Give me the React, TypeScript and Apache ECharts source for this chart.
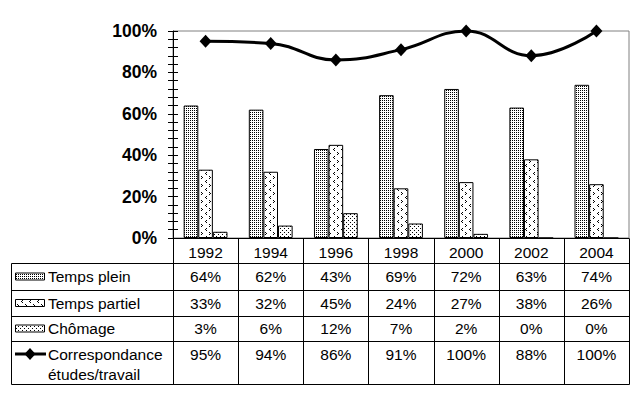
import React, { useEffect, useRef } from 'react';
import * as echarts from 'echarts';

const years = ['1992', '1994', '1996', '1998', '2000', '2002', '2004'];
const tempsPlein = [64, 62, 43, 69, 72, 63, 74];
const tempsPartiel = [33, 32, 45, 24, 27, 38, 26];
const chomage = [3, 6, 12, 7, 2, 0, 0];
const correspondance = [95, 94, 86, 91, 100, 88, 100];
const barNames = ['Temps plein', 'Temps partiel', 'Chômage'];
const lineLabel = ['Correspondance', 'études/travail'];

const FONT = '"Liberation Sans", Arial, sans-serif';

function tile(w: number, h: number, pts: number[][]) {
  const c = document.createElement('canvas');
  c.width = w;
  c.height = h;
  const ctx = c.getContext('2d')!;
  ctx.fillStyle = '#fff';
  ctx.fillRect(0, 0, w, h);
  ctx.fillStyle = '#000';
  pts.forEach(([x, y]) => ctx.fillRect(x, y, 1, 1));
  return { image: c, repeat: 'repeat', imageWidth: w, imageHeight: h } as any;
}

export default function App() {
  const ref = useRef<HTMLDivElement>(null);
  useEffect(() => {
    if (!ref.current) return;
    const chart = echarts.init(ref.current, undefined, { renderer: 'svg' });

    const patPlein = tile(2, 2, [[0, 0]]);
    const patPartiel = tile(8, 8, [[1, 0], [2, 1], [1, 2], [6, 4], [5, 5], [6, 6]]);
    const patChomage = tile(4, 4, [[0, 0], [2, 2]]);
    const patterns = [patPlein, patPartiel, patChomage];
    const barData = [tempsPlein, tempsPartiel, chomage];

    const gridLeft = 173;
    const gridRight = 629;
    const gridTop = 31;
    const gridBottom = 238;
    const colW = (gridRight - gridLeft) / years.length;
    const tableLeft = 11;
    const rowLines = [263, 290, 316, 341, 384];
    const rowCenters = [276.5, 303, 328.5, 354];
    const secondLineY = 374;

    const graphics: any[] = [];
    const px = (v: number) => Math.round(v) + 0.5;
    const black = { stroke: '#000', lineWidth: 1 };
    rowLines.forEach((y) => {
      graphics.push({ type: 'line', shape: { x1: px(tableLeft), y1: px(y), x2: px(gridRight), y2: px(y) }, style: black });
    });
    graphics.push({ type: 'line', shape: { x1: px(tableLeft), y1: px(rowLines[0]), x2: px(tableLeft), y2: px(rowLines[rowLines.length - 1]) }, style: black });
    for (let k = 0; k <= years.length; k++) {
      const x = px(gridLeft + k * colW);
      graphics.push({ type: 'line', shape: { x1: x, y1: px(gridBottom), x2: x, y2: px(rowLines[rowLines.length - 1]) }, style: black });
    }
    const txt = (text: string, x: number, y: number, align: string) => ({
      type: 'text',
      x,
      y,
      style: {
        text,
        font: `15.5px ${FONT}`,
        fill: '#000',
        align,
        verticalAlign: 'middle',
        textAlign: align,
        textVerticalAlign: 'middle',
      },
    });
    // legend cells
    barNames.forEach((name, i) => {
      graphics.push({
        type: 'rect',
        shape: { x: 15.5, y: rowCenters[i] - 3.5, width: 29, height: 7 },
        style: { fill: patterns[i], stroke: '#000', lineWidth: 1 },
      });
      graphics.push(txt(name, 48, rowCenters[i], 'left'));
    });
    graphics.push({ type: 'line', shape: { x1: 15, y1: rowCenters[3], x2: 46, y2: rowCenters[3] }, style: { stroke: '#000', lineWidth: 3 } });
    graphics.push({
      type: 'polygon',
      shape: { points: [[30, rowCenters[3] - 6], [35.5, rowCenters[3]], [30, rowCenters[3] + 6], [24.5, rowCenters[3]]] },
      style: { fill: '#000' },
    });
    graphics.push(txt(lineLabel[0], 48, rowCenters[3], 'left'));
    graphics.push(txt(lineLabel[1], 48, secondLineY, 'left'));
    // values
    const allRows = [tempsPlein, tempsPartiel, chomage, correspondance];
    allRows.forEach((row, r) => {
      row.forEach((v, i) => {
        graphics.push(txt(`${v}%`, gridLeft + (i + 0.5) * colW, rowCenters[r], 'center'));
      });
    });

    const yBase = {
      type: 'value',
      min: 0,
      max: 100,
      interval: 20,
      position: 'left',
      splitLine: { show: false },
    };

    chart.setOption({
      animation: false,
      backgroundColor: '#fff',
      grid: {
        left: gridLeft,
        right: 639 - gridRight,
        top: gridTop,
        bottom: 399 - gridBottom,
        show: true,
        borderColor: '#808080',
        borderWidth: 1,
        backgroundColor: 'transparent',
      },
      xAxis: {
        type: 'category',
        data: years,
        axisLine: { lineStyle: { color: '#000', width: 1 } },
        axisTick: { show: false },
        axisLabel: { color: '#000', fontSize: 15.5, fontFamily: FONT, margin: 6 },
      },
      yAxis: [
        {
          ...yBase,
          axisLine: { show: true, lineStyle: { color: '#000', width: 1 } },
          axisTick: { show: true, length: 5, lineStyle: { color: '#000' } },
          minorTick: { show: true, splitNumber: 5, length: 5, lineStyle: { color: '#000' } },
          axisLabel: {
            color: '#000',
            fontSize: 17.5,
            fontWeight: 'bold',
            fontFamily: FONT,
            margin: 16,
            formatter: '{value}%',
          },
        },
        {
          ...yBase,
          offset: 0,
          axisLine: { show: false },
          axisTick: { show: true, inside: true, length: 5, lineStyle: { color: '#000' } },
          minorTick: { show: true, splitNumber: 5, length: 5, lineStyle: { color: '#000' } },
          axisLabel: { show: false },
        },
      ],
      series: [
        ...barData.map((d, i) => ({
          name: barNames[i],
          type: 'bar',
          data: d,
          barWidth: 14.6,
          barGap: '0%',
          itemStyle: { color: patterns[i], borderColor: '#000', borderWidth: 1 },
        })),
        {
          name: lineLabel.join(' '),
          type: 'line',
          data: correspondance,
          smooth: 0.45,
          symbol: 'diamond',
          symbolSize: [12, 13],
          lineStyle: { color: '#000', width: 3 },
          itemStyle: { color: '#000' },
          z: 5,
        },
      ],
      graphic: graphics,
    });
    return () => chart.dispose();
  }, []);
  return (
    <div
      ref={ref}
      style={{ position: 'fixed', left: 0, top: 0, width: 639, height: 399, background: '#fff' }}
    />
  );
}
